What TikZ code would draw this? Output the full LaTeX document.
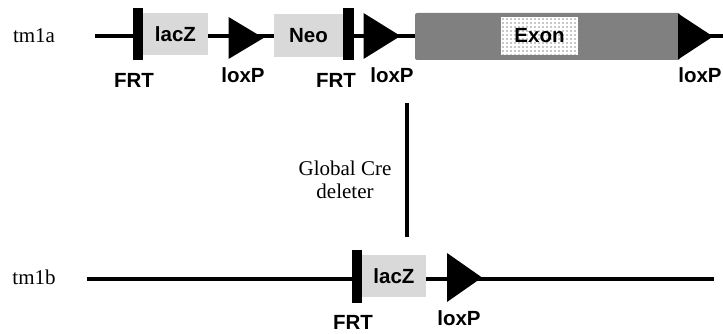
\documentclass[tikz,border=0pt]{standalone}
\usepackage{fontspec}
\setmainfont{Liberation Serif}
\setsansfont{Liberation Sans}
\usepackage{tikz}
\usepackage{xcolor}
\usetikzlibrary{backgrounds}
\definecolor{cassette}{RGB}{217, 217, 217}
\definecolor{flank}{RGB}{128, 128, 128}
\definecolor{stipple}{RGB}{200, 200, 200}

\begin{document}
\begin{tikzpicture}[
    x=1pt, y=-1pt,
    frt/.style={rectangle, fill=black, inner sep=0pt, minimum width=10.5pt, minimum height=52pt},
    gene/.style={rectangle, fill=cassette, inner sep=0pt, minimum height=42pt,
                 font=\sffamily\bfseries\fontsize{20.5}{24}\selectfont},
    lox/.style={rectangle, inner sep=0pt, minimum width=35pt, minimum height=46pt,
                path picture={\fill[black] (path picture bounding box.north west)
                  -- (path picture bounding box.east) -- (path picture bounding box.south west) -- cycle;}},
    dotted box/.style={rectangle, fill=white, inner sep=0pt,
                path picture={\foreach \i in {0,...,19} \foreach \j in {0,...,9}
                  \fill[stipple] ([shift={(4*\i+1,4*\j+1)}]path picture bounding box.north west) rectangle ++(2,2);}},
    site/.style={font=\sffamily\bfseries\fontsize{20.5}{24}\selectfont, inner sep=0pt},
    allele/.style={font=\fontsize{21}{24}\selectfont, inner sep=0pt},
    backbone/.style={line width=4.5pt}
]
\useasboundingbox (0,0) rectangle (723,334);

% tm1a allele
\node[allele] (tma) at (34, 36) {tm1a};
\coordinate (tmaL) at (95, 36);
\coordinate (tmaR) at (723, 36);
\node[frt] (frtA) at (138, 34.5) {};
\node[gene, minimum width=65pt] (lacA) at (175.5, 34) {lacZ};
\node[lox, minimum height=42pt] (loxA) at (246, 38) {};
\node[gene, minimum width=69pt, minimum height=43pt] (neo) at (308.5, 35.5) {Neo};
\node[frt] (frtB) at (348.5, 34.5) {};
\node[lox, minimum width=37pt] (loxB) at (382, 36) {};
\node[rectangle, rounded corners=2pt, fill=flank, inner sep=0pt, minimum width=265pt, minimum height=47pt] (flankbox) at (547.5, 36.5) {};
\node[gene, dotted box, minimum width=77pt, minimum height=38pt] (exon) at (539.5, 36) {Exon};
\node[lox] (loxC) at (695.5, 36.5) {};

% site labels
\node[site] (frtAlbl) at (134, 80) {FRT};
\node[site] (loxAlbl) at (243, 75.5) {loxP};
\node[site] (frtBlbl) at (336, 80) {FRT};
\node[site] (loxBlbl) at (392, 75.5) {loxP};
\node[site] (loxClbl) at (700, 75.5) {loxP};

% Cre step
\coordinate (creTop) at (407, 103);
\coordinate (creBot) at (407, 237);
\draw[line width=4pt] (creTop) -- (creBot);
\node[allele, align=center, font=\fontsize{21}{23}\selectfont] (cre) at (345, 180) {Global Cre\\deleter};

% tm1b allele
\node[allele] (tmb) at (34, 277) {tm1b};
\coordinate (tmbL) at (87, 279);
\coordinate (tmbR) at (714, 279);
\node[frt, minimum height=53pt] (frtC) at (357, 276.5) {};
\node[gene, minimum width=64pt] (lacB) at (394, 276) {lacZ};
\node[lox, minimum height=49pt] (loxD) at (464.5, 277.5) {};
\node[site] (frtClbl) at (353, 322) {FRT};
\node[site] (loxDlbl) at (459, 318) {loxP};

% backbones behind the elements
\begin{scope}[on background layer]
\draw[backbone] (tmaL) -- (tmaR);
\draw[backbone] (tmbL) -- (tmbR);
\end{scope}

\end{tikzpicture}
\end{document}
